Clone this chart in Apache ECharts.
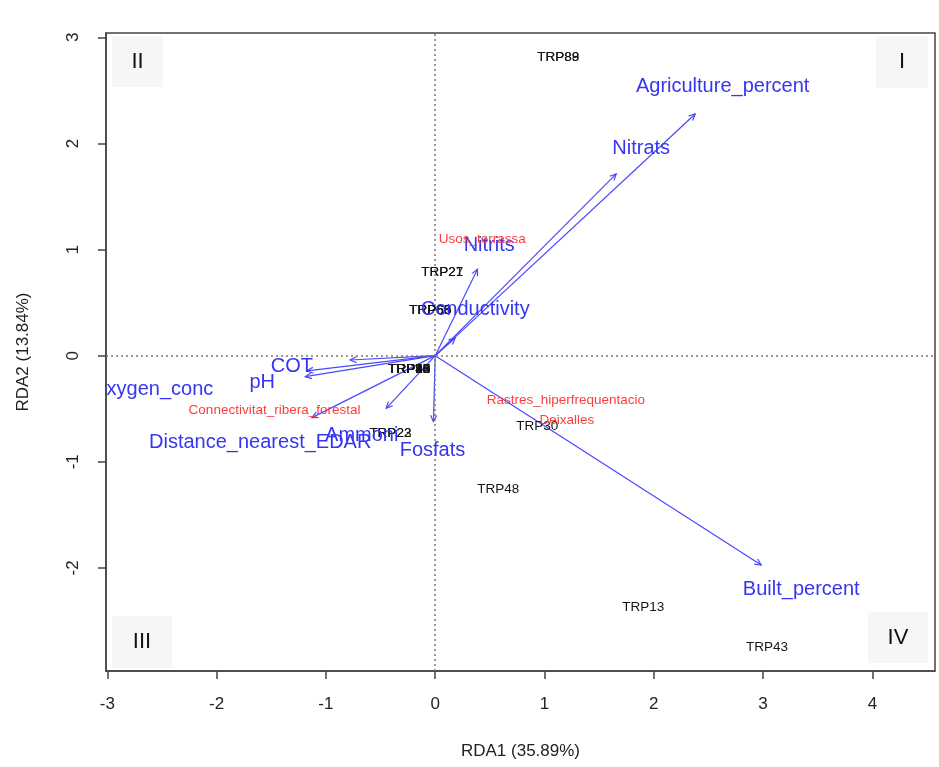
<!DOCTYPE html>
<html>
<head>
<meta charset="utf-8">
<script src="https://cdn.jsdelivr.net/npm/echarts@6/dist/echarts.min.js"></script>
<style>
html,body{margin:0;padding:0;background:#fff;}
#chart{width:939px;height:767px;}
</style>
</head>
<body>
<div id="chart"></div>
<script>
// ---- Data ----
const xTickValues = [-3, -2, -1, 0, 1, 2, 3, 4];
const yTickValues = [-2, -1, 0, 1, 2, 3];

// site scores (labels only)
const siteNames = ['TRP88', 'TRP89', 'TRP27', 'TRP21', 'TRP60', 'TRP66', 'TRP65', 'TRP68',
  'TRP10', 'TRP14', 'TRP18', 'TRP25', 'TRP36', 'TRP47', 'TRP52', 'TRP83', 'TRP90',
  'TRP22', 'TRP23', 'TRP30', 'TRP48', 'TRP13', 'TRP43'];
const siteX = [1.125, 1.125, 0.064, 0.064, -0.046, -0.046, -0.046, -0.046,
  -0.238, -0.238, -0.238, -0.238, -0.238, -0.238, -0.238, -0.238, -0.238,
  -0.41, -0.41, 0.933, 0.576, 1.903, 3.037];
const siteY = [2.815, 2.815, 0.789, 0.789, 0.431, 0.431, 0.431, 0.431,
  -0.125, -0.125, -0.125, -0.125, -0.125, -0.125, -0.125, -0.125, -0.125,
  -0.73, -0.73, -0.663, -1.263, -2.369, -2.746];

// environmental biplot arrows
const envNames = ['Agriculture_percent', 'Nitrats', 'Nitrits', 'Conductivity', 'Built_percent',
  'Fosfats', 'Ammoni', 'Distance_nearest_EDAR', 'COT', 'pH', 'Oxygen_conc'];
const envArrowX = [2.379, 1.656, 0.387, 0.183, 2.983, -0.016, -0.448, -1.128, -1.174, -1.189, -0.778];
const envArrowY = [2.278, 1.713, 0.814, 0.167, -1.973, -0.622, -0.496, -0.584, -0.144, -0.198, -0.041];
const envLabelX = [2.63, 1.885, 0.494, 0.366, 3.349, -0.025, -0.672, -1.601, -1.311, -1.583, -2.59];
const envLabelY = [2.54, 1.955, 1.043, 0.431, -2.202, -0.889, -0.757, -0.82, -0.104, -0.254, -0.323];

// factor centroids
const factorNames = ['Usos_terrassa', 'Connectivitat_ribera_forestal', 'Rastres_hiperfrequentacio', 'Deixalles'];
const factorX = [0.43, -1.47, 1.196, 1.205];
const factorY = [1.097, -0.512, -0.418, -0.613];

const quadrantNames = ['II', 'I', 'III', 'IV'];

// ---- Chart ----
const FONT = '"Liberation Sans", Arial, Helvetica, sans-serif';
const BLUE_TXT = '#3535f2';
const BLUE_LINE = '#4848ff';
const RED_TXT = '#ff3c3c';

function zip(xs, ys) { return xs.map((x, i) => [x, ys[i]]); }

function textSeries(name, xs, ys, labels, color, size, clip) {
  return {
    type: 'custom',
    name: name,
    clip: clip,
    silent: true,
    z: 5,
    data: zip(xs, ys),
    renderItem: function (params, api) {
      const p = api.coord([api.value(0), api.value(1)]);
      return {
        type: 'text',
        x: p[0], y: p[1],
        style: {
          text: labels[params.dataIndex],
          fill: color,
          font: size + 'px ' + FONT,
          align: 'center',
          verticalAlign: 'middle'
        }
      };
    }
  };
}

const arrowSeries = {
  type: 'custom',
  name: 'arrows',
  silent: true,
  z: 3,
  data: zip(envArrowX, envArrowY),
  renderItem: function (params, api) {
    const o = api.coord([0, 0]);
    const e = api.coord([api.value(0), api.value(1)]);
    const ang = Math.atan2(e[1] - o[1], e[0] - o[0]);
    const L = 7, a = Math.PI / 7;
    const h1 = [e[0] - L * Math.cos(ang - a), e[1] - L * Math.sin(ang - a)];
    const h2 = [e[0] - L * Math.cos(ang + a), e[1] - L * Math.sin(ang + a)];
    return {
      type: 'group',
      children: [
        { type: 'line', shape: { x1: o[0], y1: o[1], x2: e[0], y2: e[1] },
          style: { stroke: BLUE_LINE, lineWidth: 1.2 } },
        { type: 'polyline', shape: { points: [h1, e, h2] },
          style: { stroke: BLUE_LINE, lineWidth: 1.2, fill: null } }
      ]
    };
  },
  markLine: {
    silent: true,
    symbol: 'none',
    label: { show: false },
    lineStyle: { type: [2, 3], color: '#7a7a7a', width: 1.5 },
    data: [{ xAxis: 0 }, { yAxis: 0 }]
  }
};

const quadBoxes = [
  { x: 112, y: 36, w: 51, h: 51 },
  { x: 876, y: 36, w: 52, h: 52 },
  { x: 112, y: 616, w: 60, h: 52 },
  { x: 868, y: 612, w: 60, h: 51 }
];
const graphics = [];
quadBoxes.forEach((b, i) => {
  graphics.push({ type: 'rect', z: 1, shape: { x: b.x, y: b.y, width: b.w, height: b.h },
    style: { fill: '#f6f6f6' } });
  graphics.push({ type: 'text', z: 2, x: b.x + b.w / 2, y: b.y + b.h / 2,
    style: { text: quadrantNames[i], fill: '#111', font: '22px ' + FONT, align: 'center', verticalAlign: 'middle' } });
});

const chart = echarts.init(document.getElementById('chart'));
chart.setOption({
  animation: false,
  backgroundColor: '#fff',
  grid: { left: 106, right: 4, top: 33, bottom: 96, show: true, borderColor: '#444', borderWidth: 1.5, containLabel: false },
  xAxis: {
    type: 'value', min: -3.012, max: 4.573,
    axisLine: { show: true, onZero: false, lineStyle: { color: '#444', width: 1.5 } },
    axisTick: { show: true, length: 8, customValues: xTickValues, lineStyle: { color: '#444', width: 1.5 } },
    axisLabel: { customValues: xTickValues, fontSize: 17, color: '#222', fontFamily: FONT, margin: 25 },
    splitLine: { show: false },
    name: 'RDA1 (35.89%)', nameLocation: 'middle', nameGap: 72,
    nameTextStyle: { fontSize: 17, color: '#222', fontFamily: FONT }
  },
  yAxis: {
    type: 'value', min: -2.972, max: 3.041,
    axisLine: { show: true, onZero: false, lineStyle: { color: '#444', width: 1.5 } },
    axisTick: { show: true, length: 8, customValues: yTickValues, lineStyle: { color: '#444', width: 1.5 } },
    axisLabel: { customValues: yTickValues, fontSize: 17, color: '#222', fontFamily: FONT, rotate: 90, margin: 24 },
    splitLine: { show: false },
    name: 'RDA2 (13.84%)', nameLocation: 'middle', nameGap: 74, nameRotate: 90,
    nameTextStyle: { fontSize: 17, color: '#222', fontFamily: FONT }
  },
  graphic: graphics,
  series: [
    arrowSeries,
    textSeries('sites', siteX, siteY, siteNames, '#151515', 13.5, true),
    textSeries('env', envLabelX, envLabelY, envNames, BLUE_TXT, 20, true),
    textSeries('factors', factorX, factorY, factorNames, RED_TXT, 13.5, true)
  ]
});
</script>
</body>
</html>
